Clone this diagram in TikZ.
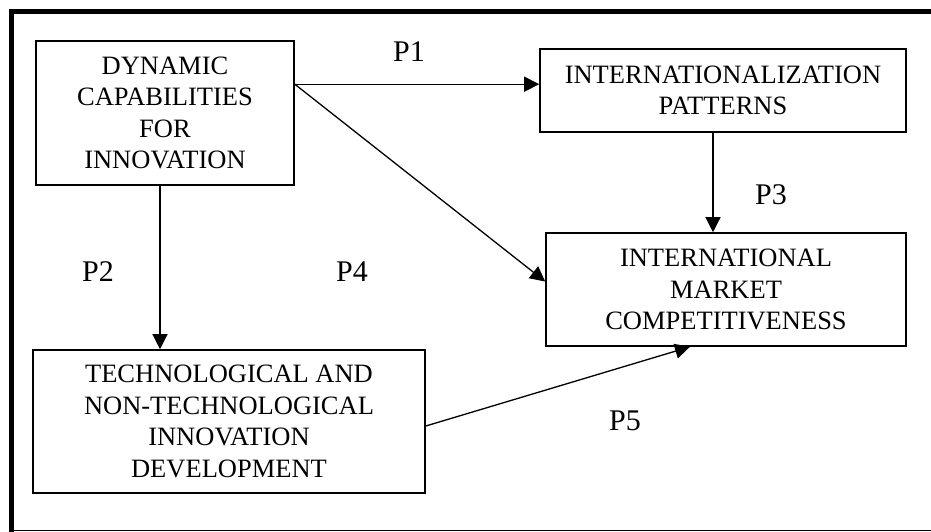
\documentclass[tikz,border=0pt]{standalone}
\usepackage{fontspec}
\setmainfont{Liberation Serif}
\usetikzlibrary{arrows.meta,calc}
\begin{document}
\begin{tikzpicture}[x=1pt,y=-1pt,
  conbox/.style={draw,line width=1.6pt,rectangle,inner sep=0pt,align=center,
    font=\fontsize{26.5}{31.5}\selectfont},
  arr/.style={line width=1.3pt,-{Triangle[length=15pt,width=15pt]}},
  plabel/.style={anchor=base,inner sep=0pt,font=\fontsize{30}{34}\selectfont}]
  \useasboundingbox (0,0) rectangle (931,532);
  % outer frame
  \draw[line width=5pt] (11.5,532) -- (11.5,11.5) -- (931,11.5);
  \draw[line width=1.5pt] (9,530.5) -- (931,530.5);
  % boxes
  \node[conbox,minimum width=258pt,minimum height=144pt] (b1) at (165,113)
    {DYNAMIC\\CAPABILITIES\\FOR\\INNOVATION};
  \node[conbox,minimum width=366pt,minimum height=83pt] (b2) at (723,90.5)
    {INTERNATIONALIZATION\\PATTERNS};
  \node[conbox,minimum width=360pt,minimum height=113pt] (b3) at (726,289.5)
    {INTERNATIONAL\\MARKET\\COMPETITIVENESS};
  \node[conbox,minimum width=392pt,minimum height=143pt] (b4) at (229,421.5)
    {TECHNOLOGICAL AND\\NON-TECHNOLOGICAL\\INNOVATION\\DEVELOPMENT};
  % connector end points on the box edges
  \coordinate (s1) at ([yshift=-44pt]b1.north east);
  \coordinate (s2) at ([xshift=-5pt]b1.south);
  \coordinate (s3) at ([xshift=-10pt]b2.south);
  \coordinate (s5) at ([yshift=-4.5pt]b4.east);
  % connectors
  \draw[arr] (s1) -- (s1 -| b2.west);
  \draw[arr] (s1) -- ([yshift=8pt]b3.west);
  \draw[arr] (s2) -- (s2 |- b4.north);
  \draw[arr] (s3) -- (s3 |- b3.north);
  \draw[arr] (s5) -- ([xshift=-36pt]b3.south);
  % proposition labels
  \node[plabel] (p1) at (409,62) {P1};
  \node[plabel] (p2) at (98,281) {P2};
  \node[plabel] (p3) at (771,204) {P3};
  \node[plabel] (p4) at (352,281) {P4};
  \node[plabel] (p5) at (625,430) {P5};
\end{tikzpicture}
\end{document}
